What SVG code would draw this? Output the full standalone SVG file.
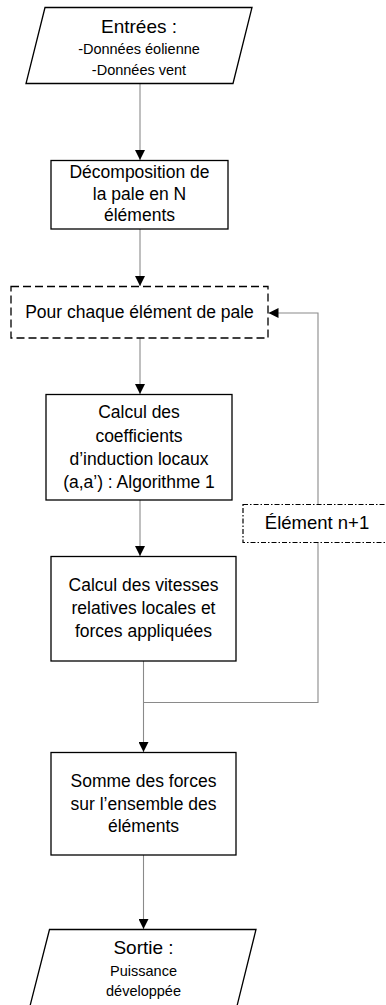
<svg xmlns="http://www.w3.org/2000/svg" width="386" height="1005" viewBox="0 0 386 1005">
<style>
.sh{fill:#fff;stroke:#000;stroke-width:1.3}
.t{font-family:"Liberation Sans",Arial,sans-serif;fill:#000;text-anchor:middle}
.m{font-size:17.5px}
.c{fill:none;stroke:#8a8a8a;stroke-width:1.1}
</style>
<defs>
<marker id="ah" viewBox="0 0 10 10" refX="10" refY="5" markerWidth="10" markerHeight="10" markerUnits="userSpaceOnUse" orient="auto">
<path d="M0,0 L10,5 L0,10 z" fill="#000"/>
</marker>
</defs>
<rect width="386" height="1005" fill="#fff"/>
<g id="connectors">
<line class="c" x1="140" y1="84" x2="140" y2="160" marker-end="url(#ah)"/>
<line class="c" x1="140" y1="229" x2="140" y2="286" marker-end="url(#ah)"/>
<line class="c" x1="140" y1="338" x2="140" y2="394" marker-end="url(#ah)"/>
<line class="c" x1="140" y1="500" x2="140" y2="556" marker-end="url(#ah)"/>
<line class="c" x1="143.5" y1="661" x2="143.5" y2="752" marker-end="url(#ah)"/>
<polyline class="c" points="143.5,702.5 318,702.5 318,313 268.5,313" marker-end="url(#ah)"/>
<line class="c" x1="143.5" y1="855" x2="143.5" y2="929" marker-end="url(#ah)"/>
</g>
<g id="entrees">
<polygon class="sh" points="45,7.5 252,7.5 233,83.5 26,83.5"/>
<text class="t" x="139" y="33" font-size="19">Entrées :</text>
<text class="t" x="139" y="54" font-size="14.5">-Données éolienne</text>
<text class="t" x="139" y="75" font-size="14.5">-Données vent</text>
</g>
<g id="decomposition">
<rect class="sh" x="51" y="160.5" width="177" height="68.5"/>
<text class="t m" x="139.5" y="178">Décomposition de</text>
<text class="t m" x="139.5" y="199.5">la pale en N</text>
<text class="t m" x="139.5" y="221">éléments</text>
</g>
<g id="pour-chaque">
<rect x="11" y="286.5" width="257" height="51.5" fill="#fff" stroke="#000" stroke-width="1.3" stroke-dasharray="8,4"/>
<text class="t m" x="139.5" y="318">Pour chaque élément de pale</text>
</g>
<g id="coefficients">
<rect class="sh" x="46" y="394.5" width="186" height="105.5"/>
<text class="t m" x="139" y="418">Calcul des</text>
<text class="t m" x="139" y="441.5">coefficients</text>
<text class="t m" x="139" y="464.5">d’induction locaux</text>
<text class="t m" x="139" y="487.5">(a,a’) : Algorithme 1</text>
</g>
<g id="element-n1">
<rect x="243" y="504.5" width="150" height="38" fill="#fff" stroke="#000" stroke-width="1.2" stroke-dasharray="5,2,1.5,2"/>
<text class="t" x="317" y="529" font-size="18.5">Élément n+1</text>
</g>
<g id="vitesses">
<rect class="sh" x="51" y="556.5" width="185" height="104.5"/>
<text class="t m" x="143.5" y="591">Calcul des vitesses</text>
<text class="t m" x="143.5" y="614">relatives locales et</text>
<text class="t m" x="143.5" y="637">forces appliquées</text>
</g>
<g id="somme">
<rect class="sh" x="51" y="752.5" width="185" height="102.5"/>
<text class="t m" x="143.5" y="787">Somme des forces</text>
<text class="t m" x="143.5" y="810">sur l’ensemble des</text>
<text class="t m" x="143.5" y="832">éléments</text>
</g>
<g id="sortie">
<polygon class="sh" points="49.5,929.5 256,929.5 237,1006 30,1006"/>
<text class="t" x="143.5" y="954" font-size="19">Sortie :</text>
<text class="t" x="143.5" y="976" font-size="14.5">Puissance</text>
<text class="t" x="143.5" y="996" font-size="14.5">développée</text>
</g>
</svg>
